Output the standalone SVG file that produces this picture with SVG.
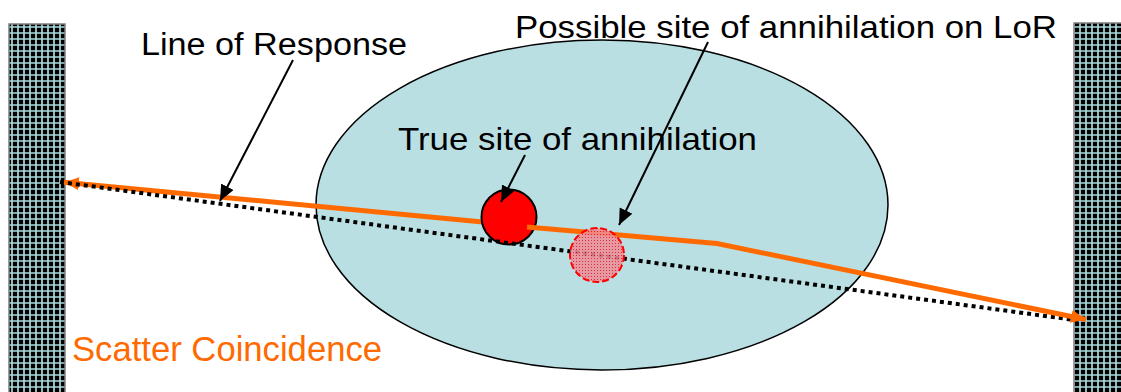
<svg xmlns="http://www.w3.org/2000/svg" width="1121" height="392" viewBox="0 0 1121 392">
<style>
.lbl{font-family:"Liberation Sans",Arial,sans-serif;fill:#000}
.orange{fill:none;stroke:#ff6a00;stroke-width:5}
.leader{fill:none;stroke:#000;stroke-width:2}
.det{fill:url(#grid);stroke:#7f7f7f;stroke-width:1.5}
</style>
<defs>
<pattern id="grid" patternUnits="userSpaceOnUse" width="6" height="6" x="9" y="24">
<rect width="6" height="6" fill="#000"/>
<path d="M3,0V6M0,3H6" stroke="#a8dadd" stroke-width="1.7"/>
</pattern>
<pattern id="dots" patternUnits="userSpaceOnUse" width="3" height="3">
<rect width="3" height="3" fill="#f08c96"/>
<rect width="1" height="1" fill="#e0101e"/>
</pattern>
<marker id="ah" markerUnits="userSpaceOnUse" markerWidth="20" markerHeight="16" refX="16" refY="7" orient="auto">
<path d="M0,0L16,7L0,14z" fill="#000"/>
</marker>
<marker id="oa" markerUnits="userSpaceOnUse" markerWidth="18" markerHeight="14" refX="15" refY="6.5" orient="auto">
<path d="M0,0L15,6.5L0,13z" fill="#ff6a00"/>
</marker>
</defs>
<g id="detector-left"><rect class="det" x="9" y="24" width="56" height="380"/></g>
<g id="detector-right"><rect class="det" x="1074" y="23" width="60" height="380"/></g>
<g id="patient"><ellipse cx="602" cy="205" rx="286" ry="165" fill="#b9dfe3" stroke="#000" stroke-width="1.5"/></g>
<g id="connectors">
<path class="orange" d="M509,224.5L64,182.3" marker-end="url(#oa)"/>
</g>
<g id="true-site"><circle cx="509" cy="217" r="27.5" fill="#ff0000" stroke="#000" stroke-width="2"/></g>
<g id="connectors-2">
<path d="M60,182L1082,321" fill="none" stroke="#000" stroke-width="4" stroke-dasharray="4 4"/>
<path class="orange" d="M527,227L717,243.5L1086,319.5" marker-end="url(#oa)"/>
</g>
<g id="possible-site"><circle cx="597" cy="255" r="27" fill="url(#dots)" fill-opacity="0.85" stroke="#ff0000" stroke-width="2" stroke-dasharray="7 3"/></g>
<g id="leaders">
<path class="leader" d="M293,60L220,201" marker-end="url(#ah)"/>
<path class="leader" d="M525,155L501,202" marker-end="url(#ah)"/>
<path class="leader" d="M708,42L619,225" marker-end="url(#ah)"/>
</g>
<g id="labels">
<text class="lbl" x="141" y="55" font-size="31" textLength="266" lengthAdjust="spacingAndGlyphs">Line of Response</text>
<text class="lbl" x="515" y="38" font-size="30.5" textLength="542" lengthAdjust="spacingAndGlyphs">Possible site of annihilation on LoR</text>
<text class="lbl" x="398" y="150" font-size="31.5" textLength="359" lengthAdjust="spacingAndGlyphs">True site of annihilation</text>
<text class="lbl" x="72" y="361" font-size="34.5" textLength="310" lengthAdjust="spacingAndGlyphs" style="fill:#ff6a00">Scatter Coincidence</text>
</g>
</svg>
